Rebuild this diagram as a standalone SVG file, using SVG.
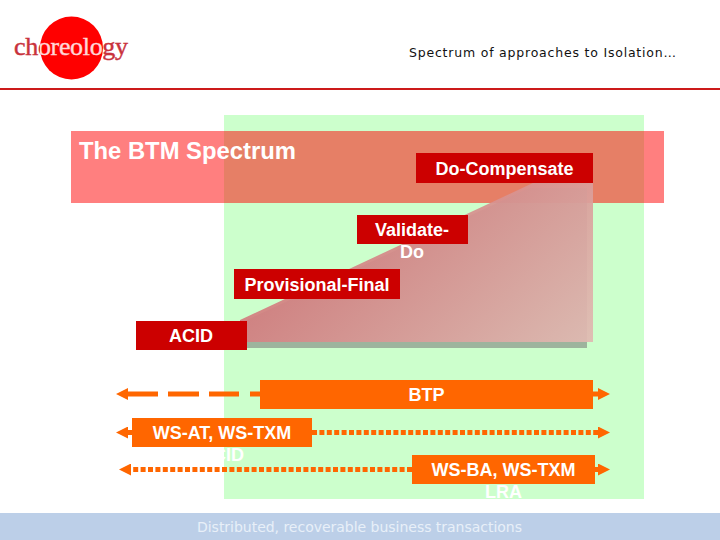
<svg xmlns="http://www.w3.org/2000/svg" width="720" height="540" viewBox="0 0 720 540">
<style>
.l{font-family:"Liberation Sans",Arial,sans-serif;font-weight:bold;font-size:18px;fill:#fff;text-anchor:middle}
.v{font-family:"DejaVu Sans",Verdana,sans-serif}
.red{fill:#cc0000}.or{fill:#ff6600}
.c{fill:none;stroke:#ff6600;stroke-width:5}
</style>
<defs>
<linearGradient id="w" gradientUnits="userSpaceOnUse" x1="380" y1="170" x2="560" y2="370">
<stop offset="0" stop-color="#d27a7c" stop-opacity=".93"/>
<stop offset="1" stop-color="#e0bab2" stop-opacity=".93"/>
</linearGradient>
<linearGradient id="lg" gradientUnits="userSpaceOnUse" x1="0" y1="0" x2="720" y2="0">
<stop offset="0.0549" stop-color="#c8323c"/><stop offset="0.0549" stop-color="#ffd8d8"/>
<stop offset="0.1424" stop-color="#ffd8d8"/><stop offset="0.1424" stop-color="#c8323c"/>
</linearGradient>
<marker id="a" markerUnits="userSpaceOnUse" markerWidth="12" markerHeight="12" refX="0" refY="6" orient="auto"><path d="M0 0L12 6L0 12Z" fill="#ff6600"/></marker>
</defs>
<rect width="720" height="540" fill="#fff"/>
<g id="logo"><circle cx="71.500" cy="48" r="31.500" fill="#ff0000"/><text x="14" y="55" font-family="'Liberation Serif',serif" font-size="26" fill="url(#lg)" stroke="url(#lg)" stroke-width=".4" textLength="114">choreology</text></g>
<rect x="0" y="88" width="720" height="2" fill="#cc1a1a"/>
<text id="title" class="v" x="409" y="57" font-size="12.500" fill="#111" textLength="267">Spectrum of approaches to Isolation…</text>
<rect id="field" x="224" y="115" width="420" height="384" fill="#ccffcc"/>
<g id="band"><rect x="71" y="131" width="593" height="72" fill="#ff0000" fill-opacity=".5"/>
<text x="79" y="159" font-family="'Liberation Sans',Arial,sans-serif" font-weight="bold" font-size="23.800" fill="#fff">The BTM Spectrum</text></g>
<g id="wedge"><path d="M234 326L529 188H587V348H234Z" fill="#777" fill-opacity=".55"/>
<path d="M240 320L535 182H593V342H240Z" fill="url(#w)"/></g>
<rect id="footer" x="0" y="513" width="720" height="27" fill="#bccfe8"/>
<text class="v" x="197" y="532" font-size="14" fill="#e8eff8" textLength="325">Distributed, recoverable business transactions</text>
<g id="connectors">
<path class="c" d="M260 394H128" stroke-dasharray="10 11 30 10 31 10 30 10" marker-end="url(#a)"/>
<path class="c" d="M260 394H598" marker-end="url(#a)"/>
<path class="c" d="M312 432.500H128" marker-end="url(#a)"/>
<path class="c" d="M312 432.500H598" stroke-dasharray="5 2.400" marker-end="url(#a)"/>
<path class="c" d="M412 469.500H131" stroke-dasharray="5 2.400" marker-end="url(#a)"/>
<path class="c" d="M595 469.500H598" marker-end="url(#a)"/>
</g>
<g id="do-compensate"><rect class="red" x="416" y="153" width="177" height="30"/><text class="l" x="504.500" y="175">Do-Compensate</text></g>
<g id="validate-do"><rect class="red" x="357" y="215" width="111" height="29"/><text class="l" x="412" y="236">Validate-</text><text class="l" x="412" y="258">Do</text></g>
<g id="provisional-final"><rect class="red" x="234" y="269" width="166" height="30"/><text class="l" x="317" y="291">Provisional-Final</text></g>
<g id="acid"><rect class="red" x="136" y="321" width="111" height="29"/><text class="l" x="191" y="342">ACID</text></g>
<g id="btp"><rect class="or" x="260" y="380" width="333" height="29"/><text class="l" x="426.500" y="401">BTP</text></g>
<g id="ws-at"><rect class="or" x="132" y="418" width="180" height="29"/><text class="l" x="222" y="439">WS-AT, WS-TXM</text><text class="l" x="222" y="461">ACID</text></g>
<g id="ws-ba"><rect class="or" x="412" y="455" width="183" height="29"/><text class="l" x="503.500" y="476">WS-BA, WS-TXM</text><text class="l" x="503.500" y="498">LRA</text></g>
</svg>
